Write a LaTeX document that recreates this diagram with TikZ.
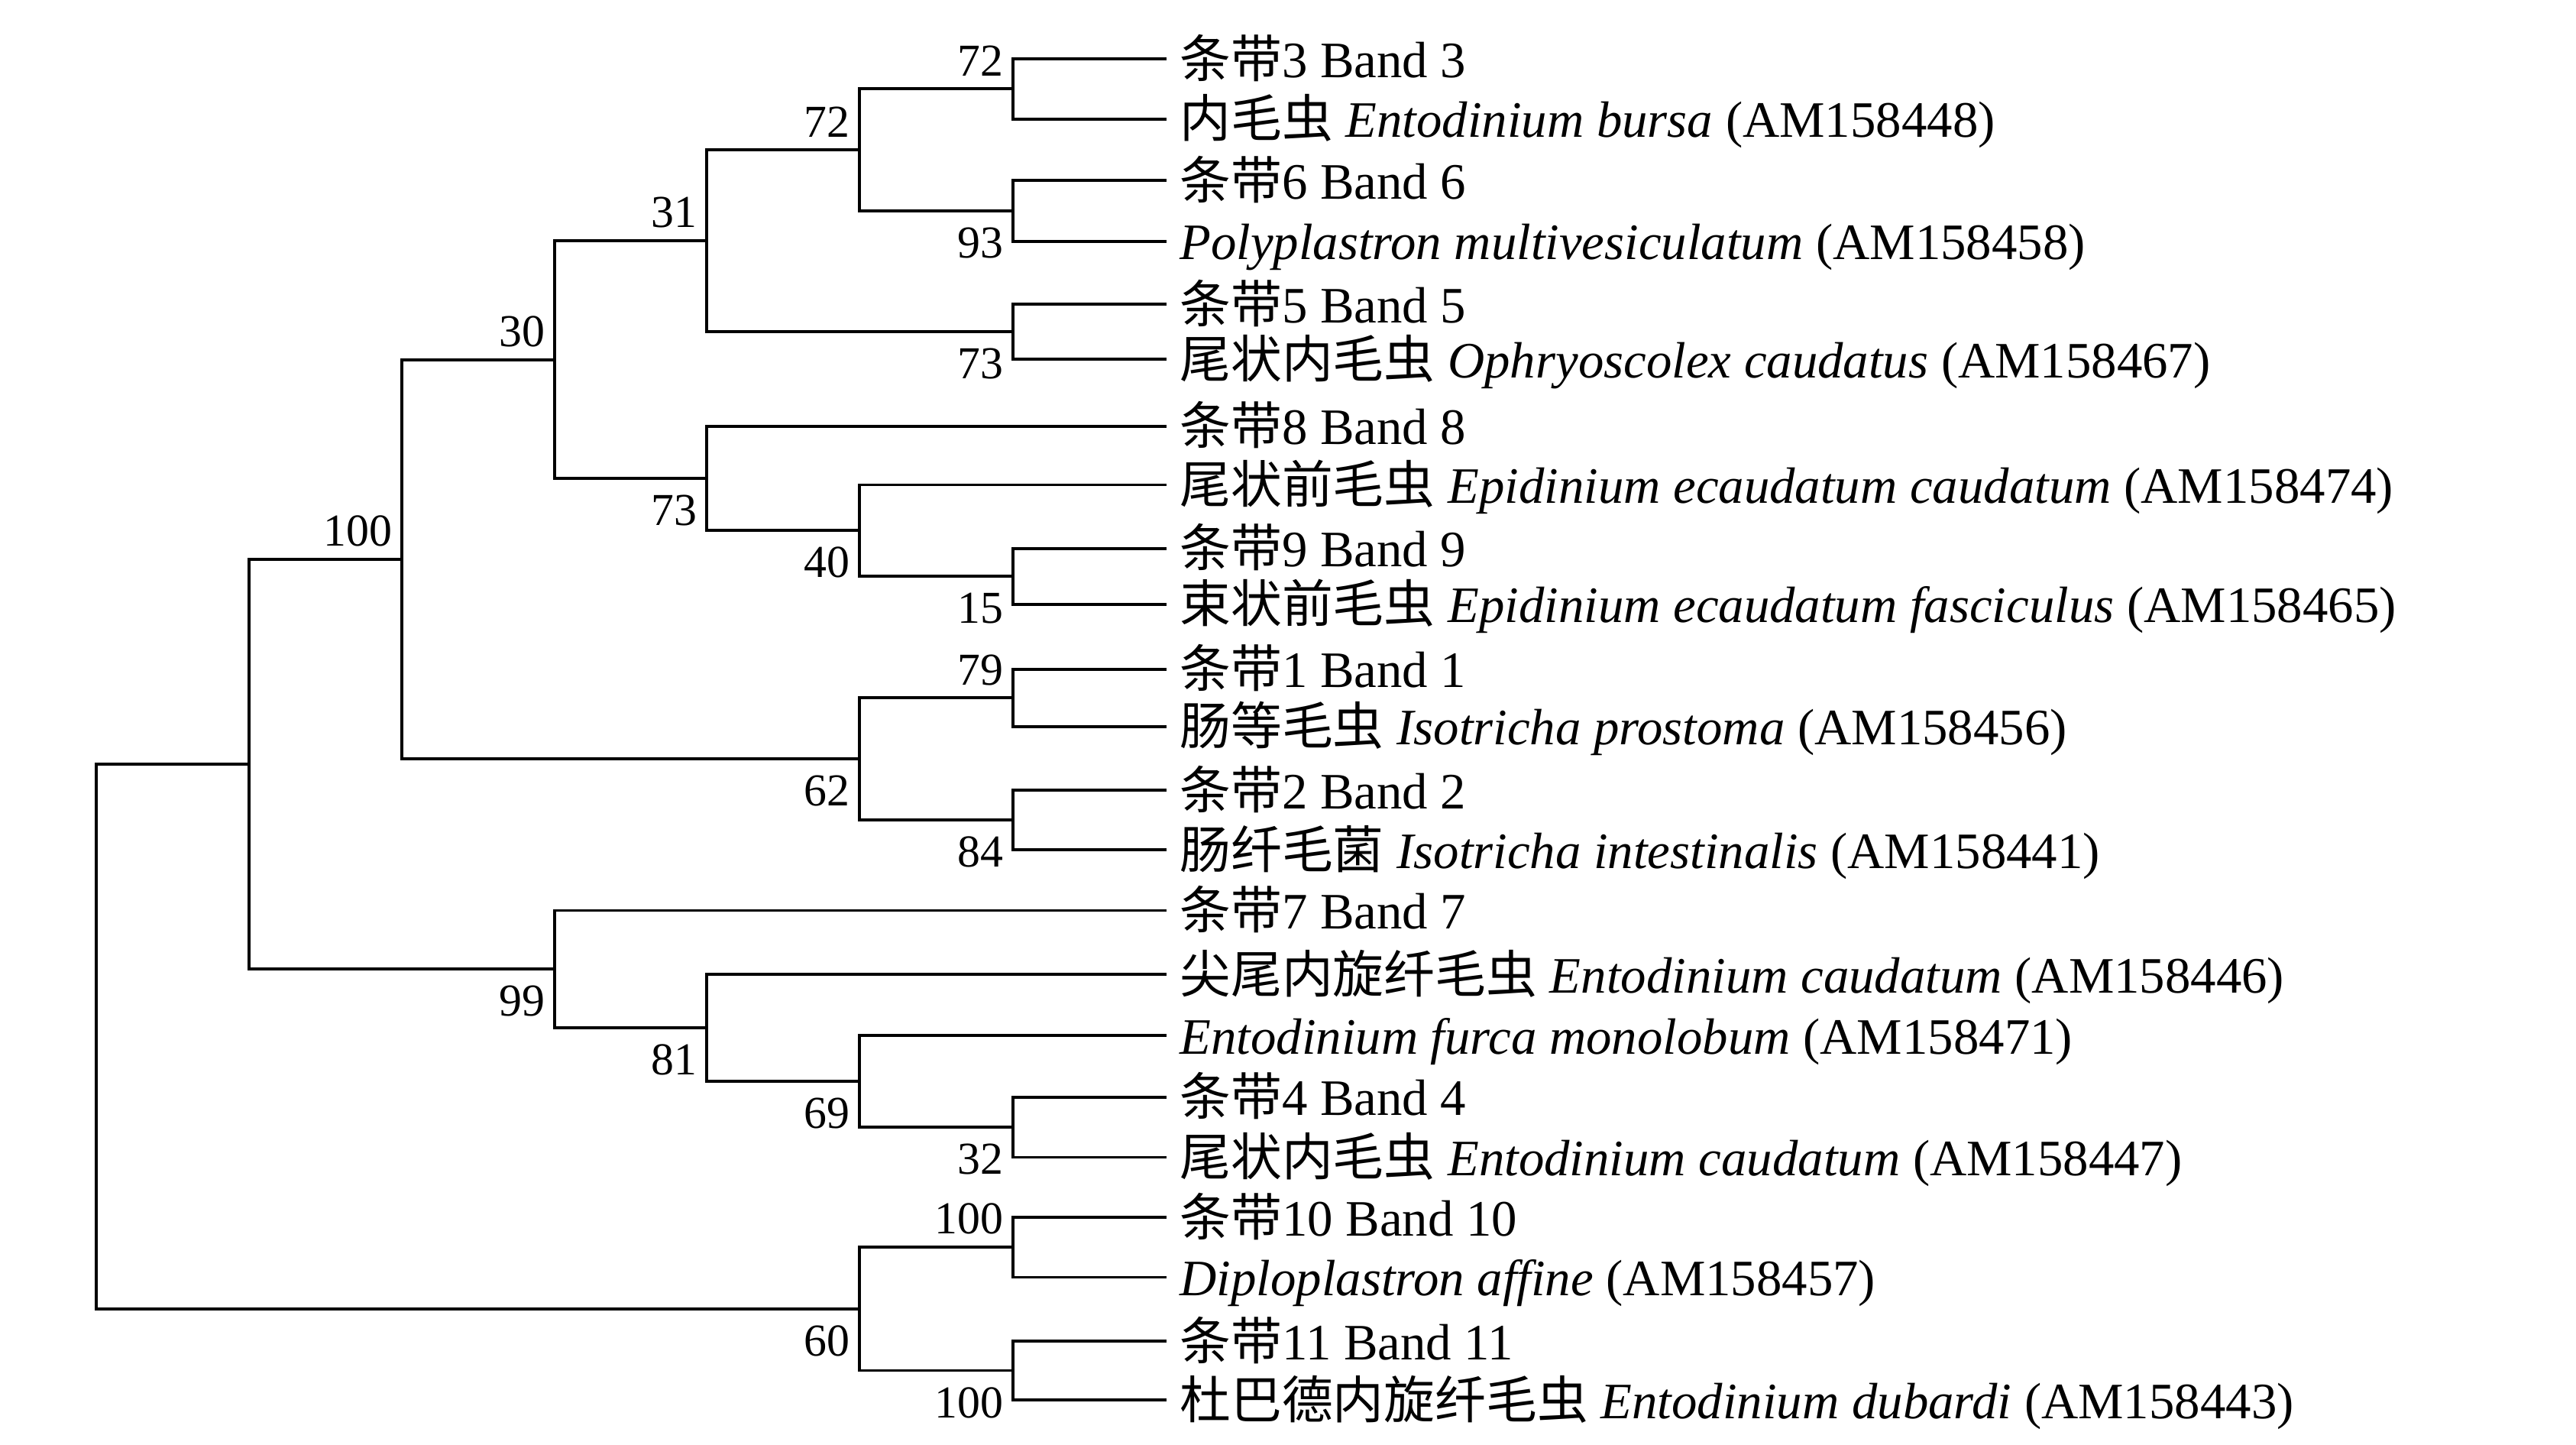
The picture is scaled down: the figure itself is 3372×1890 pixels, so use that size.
\documentclass[tikz,border=0pt]{standalone}
\usepackage{fontspec}
\setmainfont{Liberation Serif}
\newfontfamily\cjkfont{Noto Sans CJK SC}
\usetikzlibrary{positioning}

\begin{document}
\begin{tikzpicture}[x=0.01cm, y=-0.01cm,
		branch/.style={line width=1.1pt, line join=miter},
		leaf/.style={anchor=base west, inner sep=0pt, xshift=0.08cm, yshift=-0.24cm, font=\myfontleaf},
		bootup/.style={above left=0.16cm and 0.12cm, inner sep=0pt, font=\myfontboot},
		bootdown/.style={below left=0.21cm and 0.12cm, inner sep=0pt, font=\myfontboot}]
		\newcommand{\myfontleaf}{
			\fontsize{19}{22}\selectfont
		}\newcommand{\myfontboot}{
			\fontsize{17}{20}\selectfont
		}\newcommand{\myzh}[1]{{\cjkfont #1}}%Page
		\useasboundingbox (0,0) rectangle (3372,1890);
		%Ends of the leaves
		\foreach \y [count=\i] in {77,155.8,236.4,315.8,398.2,470.3,557.6,634.5,717.6,790.9,875.8,950.9,1034,1112,1191.5,1275,1355,1435.8,1514.5,1593,1671.5,1755,1832} {
			\coordinate (l\i) at (1527,\y);
		}
		%Inner nodes, from the tips to the root
		\coordinate (n72a) at (1326,116.4);
		\coordinate (n93) at (1326,276.1);
		\coordinate (n73b) at (1326,434.2);
		\coordinate (n15) at (1326,754.2);
		\coordinate (n79) at (1326,913.4);
		\coordinate (n84) at (1326,1073);
		\coordinate (n32) at (1326,1475.1);
		\coordinate (n100b) at (1326,1632.2);
		\coordinate (n100c) at (1326,1793.5);
		\coordinate (n72b) at (1125,196.2);
		\coordinate (n40) at (1125,694.4);
		\coordinate (n62) at (1125,993.2);
		\coordinate (n69) at (1125,1415);
		\coordinate (n60) at (1125,1712.8);
		\coordinate (n31) at (925,315.2);
		\coordinate (n73a) at (925,626);
		\coordinate (n81) at (925,1345);
		\coordinate (n30) at (726,470.6);
		\coordinate (n99) at (726,1268.3);
		\coordinate (n100a) at (526,731.9);
		\coordinate (nA) at (326,1000.1);
		\coordinate (root) at (126,1356.5);
		%Branches
		\draw[branch] (l1) -| (n72a) |- (l2);
		\draw[branch] (l3) -| (n93) |- (l4);
		\draw[branch] (l5) -| (n73b) |- (l6);
		\draw[branch] (l9) -| (n15) |- (l10);
		\draw[branch] (l11) -| (n79) |- (l12);
		\draw[branch] (l13) -| (n84) |- (l14);
		\draw[branch] (l18) -| (n32) |- (l19);
		\draw[branch] (l20) -| (n100b) |- (l21);
		\draw[branch] (l22) -| (n100c) |- (l23);
		\draw[branch] (n72a) -| (n72b) |- (n93);
		\draw[branch] (l8) -| (n40) |- (n15);
		\draw[branch] (n79) -| (n62) |- (n84);
		\draw[branch] (l17) -| (n69) |- (n32);
		\draw[branch] (n100b) -| (n60) |- (n100c);
		\draw[branch] (n72b) -| (n31) |- (n73b);
		\draw[branch] (l7) -| (n73a) |- (n40);
		\draw[branch] (l16) -| (n81) |- (n69);
		\draw[branch] (n31) -| (n30) |- (n73a);
		\draw[branch] (l15) -| (n99) |- (n81);
		\draw[branch] (n30) -| (n100a) |- (n62);
		\draw[branch] (n100a) -| (nA) |- (n99);
		\draw[branch] (nA) -| (root) |- (n60);
		%Bootstrap values
		\node[bootup] (b72a) at (n72a) {72};
		\node[bootdown] (b93) at (n93) {93};
		\node[bootdown] (b73b) at (n73b) {73};
		\node[bootdown] (b15) at (n15) {15};
		\node[bootup] (b79) at (n79) {79};
		\node[bootdown] (b84) at (n84) {84};
		\node[bootdown] (b32) at (n32) {32};
		\node[bootup] (b100b) at (n100b) {100};
		\node[bootdown] (b100c) at (n100c) {100};
		\node[bootup] (b72b) at (n72b) {72};
		\node[bootdown] (b40) at (n40) {40};
		\node[bootdown] (b62) at (n62) {62};
		\node[bootdown] (b69) at (n69) {69};
		\node[bootdown] (b60) at (n60) {60};
		\node[bootup] (b31) at (n31) {31};
		\node[bootdown] (b73a) at (n73a) {73};
		\node[bootdown] (b81) at (n81) {81};
		\node[bootup] (b30) at (n30) {30};
		\node[bootdown] (b99) at (n99) {99};
		\node[bootup] (b100a) at (n100a) {100};
		%Names of the leaves
		\node[leaf] (t1) at (l1) {\myzh{条带}3 Band 3};
		\node[leaf] (t2) at (l2) {\myzh{内毛虫} \textit{Entodinium bursa} (AM158448)};
		\node[leaf] (t3) at (l3) {\myzh{条带}6 Band 6};
		\node[leaf] (t4) at (l4) {\textit{Polyplastron multivesiculatum} (AM158458)};
		\node[leaf] (t5) at (l5) {\myzh{条带}5 Band 5};
		\node[leaf] (t6) at (l6) {\myzh{尾状内毛虫} \textit{Ophryoscolex caudatus} (AM158467)};
		\node[leaf] (t7) at (l7) {\myzh{条带}8 Band 8};
		\node[leaf] (t8) at (l8) {\myzh{尾状前毛虫} \textit{Epidinium ecaudatum caudatum} (AM158474)};
		\node[leaf] (t9) at (l9) {\myzh{条带}9 Band 9};
		\node[leaf] (t10) at (l10) {\myzh{束状前毛虫} \textit{Epidinium ecaudatum fasciculus} (AM158465)};
		\node[leaf] (t11) at (l11) {\myzh{条带}1 Band 1};
		\node[leaf] (t12) at (l12) {\myzh{肠等毛虫} \textit{Isotricha prostoma} (AM158456)};
		\node[leaf] (t13) at (l13) {\myzh{条带}2 Band 2};
		\node[leaf] (t14) at (l14) {\myzh{肠纤毛菌} \textit{Isotricha intestinalis} (AM158441)};
		\node[leaf] (t15) at (l15) {\myzh{条带}7 Band 7};
		\node[leaf] (t16) at (l16) {\myzh{尖尾内旋纤毛虫} \textit{Entodinium caudatum} (AM158446)};
		\node[leaf] (t17) at (l17) {\textit{Entodinium furca monolobum} (AM158471)};
		\node[leaf] (t18) at (l18) {\myzh{条带}4 Band 4};
		\node[leaf] (t19) at (l19) {\myzh{尾状内毛虫} \textit{Entodinium caudatum} (AM158447)};
		\node[leaf] (t20) at (l20) {\myzh{条带}10 Band 10};
		\node[leaf] (t21) at (l21) {\textit{Diploplastron affine} (AM158457)};
		\node[leaf] (t22) at (l22) {\myzh{条带}11 Band 11};
		\node[leaf] (t23) at (l23) {\myzh{杜巴德内旋纤毛虫} \textit{Entodinium dubardi} (AM158443)};
\end{tikzpicture}
\end{document}
